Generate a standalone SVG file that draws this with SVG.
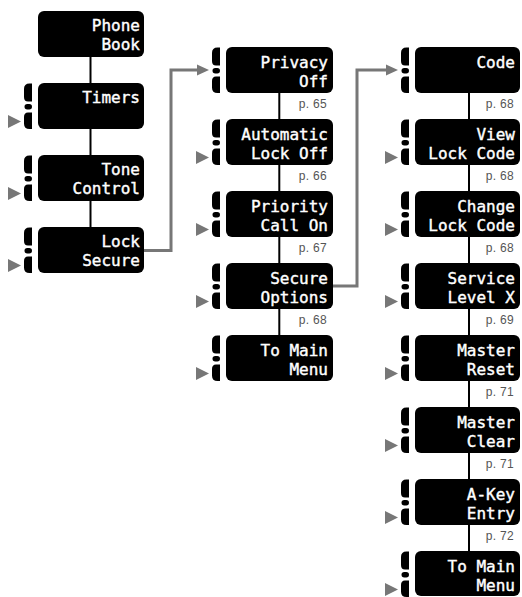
<svg xmlns="http://www.w3.org/2000/svg" xmlns:xlink="http://www.w3.org/1999/xlink" width="522" height="597" viewBox="0 0 522 597">
<style>
.box{fill:#000;}
.lbl{font-family:"DejaVu Sans Mono",monospace;font-size:16px;fill:#fff;stroke:#fff;stroke-width:0.4px;text-anchor:end;}
.pg{font-family:"Liberation Sans",Arial,sans-serif;font-size:12px;fill:#555;text-anchor:end;letter-spacing:0.3px;}
.vline{stroke:#000;stroke-width:2;fill:none;}
.glink{stroke:#777;stroke-width:3;fill:none;stroke-linejoin:miter;}
.key{fill:#000;}
.tri{fill:#777;}
</style>
<defs>
<g id="keys">
<path class="key" d="M-6,0.5 V18.5 H-10 Q-14,18.5 -14,14 V6 Q-14,0.5 -8.5,0.5 Z"/>
<rect class="key" x="-13.5" y="21" width="7.5" height="5.5" rx="2.75"/>
<path class="key" d="M-6,29.5 V46 H-8.5 Q-14,46 -14,40.5 V34 Q-14,29.5 -10,29.5 Z"/>
</g>
<path id="tri" class="tri" d="M-30,32 L-17,38.5 L-30,45 Z"/>
<marker id="ah" markerUnits="userSpaceOnUse" markerWidth="12" markerHeight="12" refX="3" refY="6" orient="auto">
<path d="M0,0.5 L12,6 L0,11.5 Z" fill="#777"/>
</marker>
</defs>

<g id="connectors">
<line class="vline" x1="90.5" y1="50" x2="90.5" y2="235"/>
<line class="vline" x1="279.3" y1="85" x2="279.3" y2="343"/>
<line class="vline" x1="469" y1="85" x2="469" y2="560"/>
<path class="glink" d="M140,250.5 H171 V70 H200" marker-end="url(#ah)"/>
<path class="glink" d="M329,286 H357 V70 H389" marker-end="url(#ah)"/>
</g>

<!-- Column 1 -->
<g id="n-phone-book">
<rect class="box" x="38" y="11" width="106" height="46" rx="6"/>
<text class="lbl"><tspan x="140" y="31">Phone</tspan><tspan x="140" y="50">Book</tspan></text>
</g>
<g id="n-timers">
<rect class="box" x="38" y="83" width="106" height="46" rx="6"/>
<text class="lbl"><tspan x="140" y="103">Timers</tspan></text>
<use xlink:href="#keys" x="38" y="83"/>
<use xlink:href="#tri" x="38" y="83"/>
</g>
<g id="n-tone-control">
<rect class="box" x="38" y="155" width="106" height="46" rx="6"/>
<text class="lbl"><tspan x="140" y="175">Tone</tspan><tspan x="140" y="194">Control</tspan></text>
<use xlink:href="#keys" x="38" y="155"/>
<use xlink:href="#tri" x="38" y="155"/>
</g>
<g id="n-lock-secure">
<rect class="box" x="38" y="227" width="106" height="46" rx="6"/>
<text class="lbl"><tspan x="140" y="247">Lock</tspan><tspan x="140" y="266">Secure</tspan></text>
<use xlink:href="#keys" x="38" y="227"/>
<use xlink:href="#tri" x="38" y="227"/>
</g>

<!-- Column 2 -->
<g id="n-privacy-off">
<rect class="box" x="226" y="47" width="107" height="46" rx="6"/>
<text class="lbl"><tspan x="328" y="67.5">Privacy</tspan><tspan x="328" y="86.5">Off</tspan></text>
<use xlink:href="#keys" x="226" y="47"/>
<text class="pg" x="327" y="108">p. 65</text>
</g>
<g id="n-automatic-lock-off">
<rect class="box" x="226" y="119" width="107" height="46" rx="6"/>
<text class="lbl"><tspan x="328" y="139.5">Automatic</tspan><tspan x="328" y="158.5">Lock Off</tspan></text>
<use xlink:href="#keys" x="226" y="119"/>
<use xlink:href="#tri" x="226" y="119"/>
<text class="pg" x="327" y="180">p. 66</text>
</g>
<g id="n-priority-call-on">
<rect class="box" x="226" y="191" width="107" height="46" rx="6"/>
<text class="lbl"><tspan x="328" y="211.5">Priority</tspan><tspan x="328" y="230.5">Call On</tspan></text>
<use xlink:href="#keys" x="226" y="191"/>
<use xlink:href="#tri" x="226" y="191"/>
<text class="pg" x="327" y="252">p. 67</text>
</g>
<g id="n-secure-options">
<rect class="box" x="226" y="263" width="107" height="46" rx="6"/>
<text class="lbl"><tspan x="328" y="283.5">Secure</tspan><tspan x="328" y="302.5">Options</tspan></text>
<use xlink:href="#keys" x="226" y="263"/>
<use xlink:href="#tri" x="226" y="263"/>
<text class="pg" x="327" y="324">p. 68</text>
</g>
<g id="n-to-main-menu-1">
<rect class="box" x="226" y="335" width="107" height="46" rx="6"/>
<text class="lbl"><tspan x="328" y="355.5">To Main</tspan><tspan x="328" y="374.5">Menu</tspan></text>
<use xlink:href="#keys" x="226" y="335"/>
<use xlink:href="#tri" x="226" y="335"/>
</g>

<!-- Column 3 -->
<g id="n-code">
<rect class="box" x="415" y="47" width="105" height="46" rx="6"/>
<text class="lbl"><tspan x="515" y="67.5">Code</tspan></text>
<use xlink:href="#keys" x="415" y="47"/>
<text class="pg" x="514" y="108">p. 68</text>
</g>
<g id="n-view-lock-code">
<rect class="box" x="415" y="119" width="105" height="46" rx="6"/>
<text class="lbl"><tspan x="515" y="139.5">View</tspan><tspan x="515" y="158.5">Lock Code</tspan></text>
<use xlink:href="#keys" x="415" y="119"/>
<use xlink:href="#tri" x="415" y="119"/>
<text class="pg" x="514" y="180">p. 68</text>
</g>
<g id="n-change-lock-code">
<rect class="box" x="415" y="191" width="105" height="46" rx="6"/>
<text class="lbl"><tspan x="515" y="211.5">Change</tspan><tspan x="515" y="230.5">Lock Code</tspan></text>
<use xlink:href="#keys" x="415" y="191"/>
<use xlink:href="#tri" x="415" y="191"/>
<text class="pg" x="514" y="252">p. 68</text>
</g>
<g id="n-service-level-x">
<rect class="box" x="415" y="263" width="105" height="46" rx="6"/>
<text class="lbl"><tspan x="515" y="283.5">Service</tspan><tspan x="515" y="302.5">Level X</tspan></text>
<use xlink:href="#keys" x="415" y="263"/>
<use xlink:href="#tri" x="415" y="263"/>
<text class="pg" x="514" y="324">p. 69</text>
</g>
<g id="n-master-reset">
<rect class="box" x="415" y="335" width="105" height="46" rx="6"/>
<text class="lbl"><tspan x="515" y="355.5">Master</tspan><tspan x="515" y="374.5">Reset</tspan></text>
<use xlink:href="#keys" x="415" y="335"/>
<use xlink:href="#tri" x="415" y="335"/>
<text class="pg" x="514" y="396">p. 71</text>
</g>
<g id="n-master-clear">
<rect class="box" x="415" y="407" width="105" height="46" rx="6"/>
<text class="lbl"><tspan x="515" y="427.5">Master</tspan><tspan x="515" y="446.5">Clear</tspan></text>
<use xlink:href="#keys" x="415" y="407"/>
<use xlink:href="#tri" x="415" y="407"/>
<text class="pg" x="514" y="468">p. 71</text>
</g>
<g id="n-a-key-entry">
<rect class="box" x="415" y="479" width="105" height="46" rx="6"/>
<text class="lbl"><tspan x="515" y="499.5">A-Key</tspan><tspan x="515" y="518.5">Entry</tspan></text>
<use xlink:href="#keys" x="415" y="479"/>
<use xlink:href="#tri" x="415" y="479"/>
<text class="pg" x="514" y="540">p. 72</text>
</g>
<g id="n-to-main-menu-2">
<rect class="box" x="415" y="551" width="105" height="45" rx="6"/>
<text class="lbl"><tspan x="515" y="571.5">To Main</tspan><tspan x="515" y="590.5">Menu</tspan></text>
<use xlink:href="#keys" x="415" y="551"/>
<use xlink:href="#tri" x="415" y="551"/>
</g>
</svg>
